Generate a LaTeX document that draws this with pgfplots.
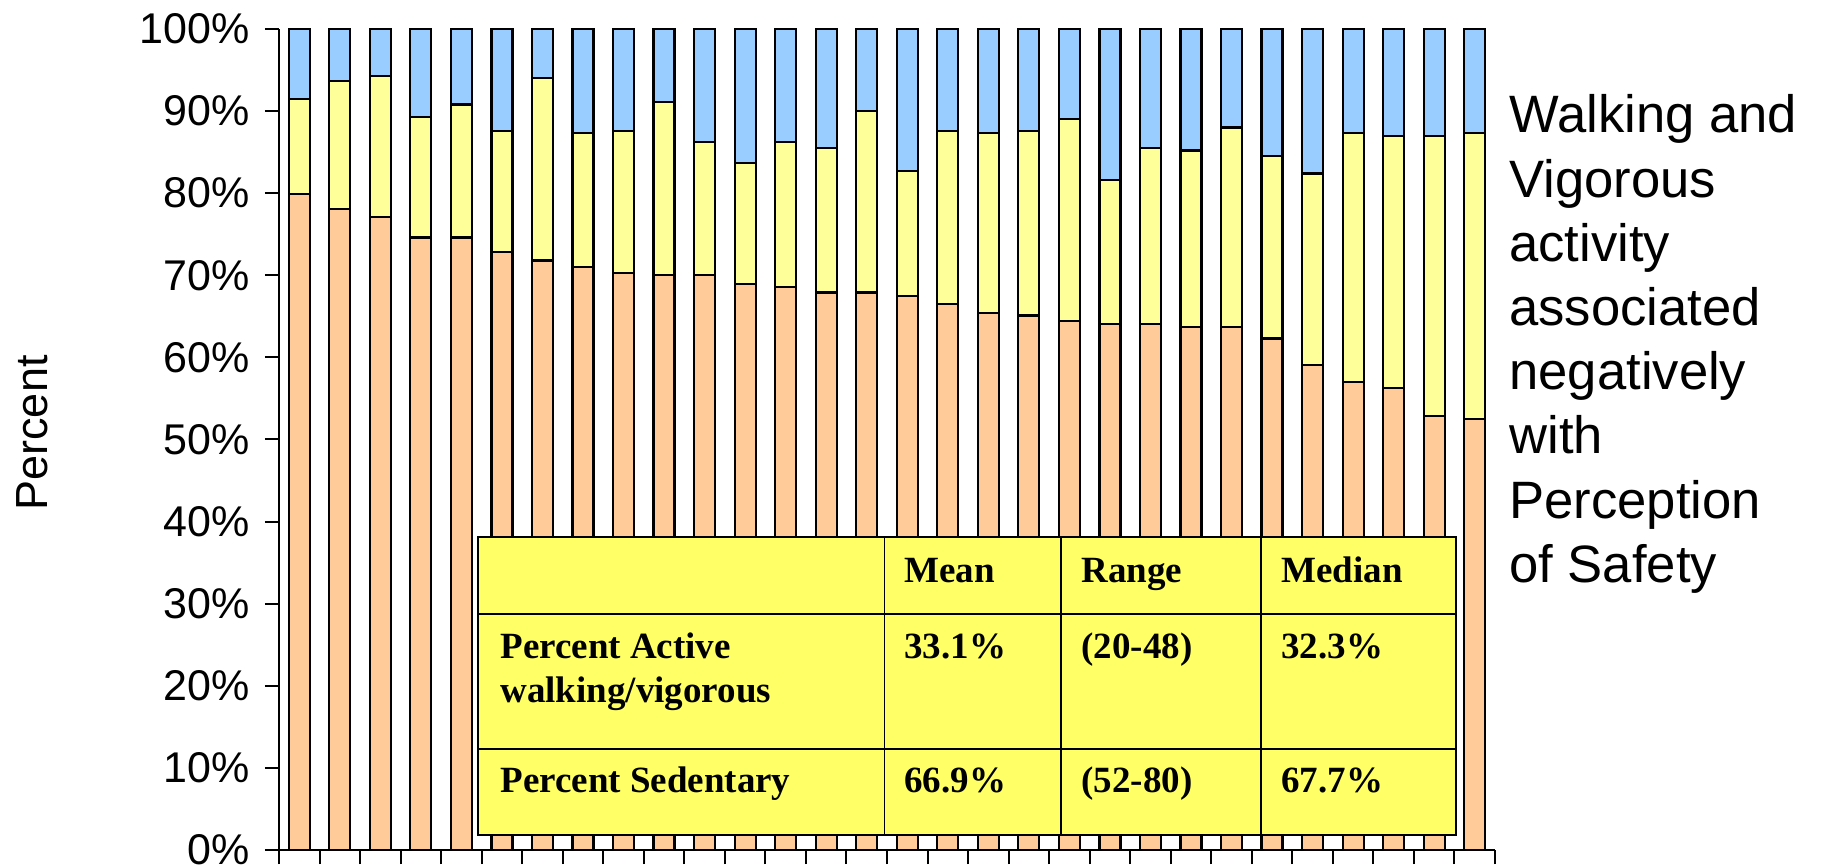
\documentclass[border=0pt]{standalone}
\usepackage{fontspec}
\setmainfont{Liberation Sans}
\newfontfamily\tabfont{Liberation Serif}
\usepackage{pgfplots}
\pgfplotsset{compat=1.18}
\usepackage{pgfplotstable}
\definecolor{sedcol}{HTML}{FFCC99}
\definecolor{walkcol}{HTML}{FFFF99}
\definecolor{vigcol}{HTML}{99CCFF}
\definecolor{tabfill}{HTML}{FFFF66}

% sedentary / walking / vigorous shares per site, percent
\pgfplotstableread{
x  sed   walk  vig
1  79.9  11.6  8.5
2  78.1  15.6  6.3
3  77.1  17.2  5.7
4  74.6  14.7  10.7
5  74.6  16.2  9.2
6  72.8  14.8  12.4
7  71.8  22.2  6.0
8  71.0  16.3  12.7
9  70.3  17.3  12.4
10 70.0  21.1  8.9
11 70.0  16.2  13.8
12 68.9  14.8  16.3
13 68.6  17.6  13.8
14 67.9  17.6  14.5
15 67.9  22.1  10.0
16 67.5  15.2  17.3
17 66.5  21.1  12.4
18 65.4  21.9  12.7
19 65.1  22.5  12.4
20 64.4  24.6  11.0
21 64.1  17.5  18.4
22 64.1  21.4  14.5
23 63.7  21.5  14.8
24 63.7  24.3  12.0
25 62.3  22.2  15.5
26 59.1  23.3  17.6
27 57.0  30.3  12.7
28 56.3  30.7  13.0
29 52.9  34.1  13.0
30 52.5  34.8  12.7
}\bars

\begin{document}
\begin{tikzpicture}
\path[use as bounding box] (-139.5pt,-8pt) rectangle (772pt,425pt);
\begin{axis}[
    name=ax,
    at={(0,0)}, anchor=south west,
    scale only axis,
    width=608pt, height=410.5pt,
    xmin=0.5, xmax=30.5,
    ymin=0, ymax=100,
    axis lines=left,
    axis line style={-, line width=1pt},
    clip=false,
    ybar stacked,
    bar width=10.5pt,
    xtick={0.5,1.5,...,30.5},
    xticklabels={},
    ytick={0,10,...,100},
    tick align=outside,
    major tick length=7pt,
    tick style={black, line width=1pt},
    /pgf/number format/assume math mode=true,
    yticklabel={\pgfmathprintnumber{\tick}\%},
    yticklabel style={font=\fontsize{21.5}{24}\selectfont, xshift=-4pt},
    every axis plot/.append style={draw=black, line width=1.1pt},
]
\addplot[fill=sedcol] table[x=x, y=sed] {\bars};
\addplot[fill=walkcol] table[x=x, y=walk] {\bars};
\addplot[fill=vigcol] table[x=x, y=vig] {\bars};
\end{axis}

\node[rotate=90, font=\fontsize{22.5}{26}\selectfont] at (-123.5pt,208.5pt) {Percent};

\foreach \t [count=\i from 0] in {Walking and, Vigorous, activity, associated, negatively, with, Perception, of Safety}
  \node[anchor=base west, inner sep=0pt, font=\fontsize{26.3}{30}\selectfont] at (615pt, 358.5pt-\i*32.1pt) {\t};

\begin{scope}[shift={(ax.south west)}, font=\tabfont\bfseries\fontsize{18.5}{22}\selectfont]
  \fill[tabfill] (99.5pt,7.5pt) rectangle (588.5pt,156.5pt);
  \draw[line width=0.6pt] (302.75pt,7.5pt) -- (302.75pt,156.5pt)
                          (391pt,7.5pt) -- (391pt,156.5pt)
                          (491pt,7.5pt) -- (491pt,156.5pt)
                          (99.5pt,118pt) -- (588.5pt,118pt)
                          (99.5pt,50.5pt) -- (588.5pt,50.5pt);
  \draw[line width=1.1pt] (99.5pt,7.5pt) rectangle (588.5pt,156.5pt);
  \begin{scope}[every node/.style={anchor=base west, inner sep=0pt}]
    \node at (312.5pt,133.5pt) {Mean};
    \node at (401pt,133.5pt) {Range};
    \node at (501pt,133.5pt) {Median};
    \node at (110.5pt,95.5pt) {Percent Active};
    \node at (110.5pt,73.5pt) {walking/vigorous};
    \node at (312.5pt,95.5pt) {33.1\%};
    \node at (401pt,95.5pt) {(20-48)};
    \node at (501pt,95.5pt) {32.3\%};
    \node at (110.5pt,28.5pt) {Percent Sedentary};
    \node at (312.5pt,28.5pt) {66.9\%};
    \node at (401pt,28.5pt) {(52-80)};
    \node at (501pt,28.5pt) {67.7\%};
  \end{scope}
\end{scope}
\end{tikzpicture}
\end{document}
